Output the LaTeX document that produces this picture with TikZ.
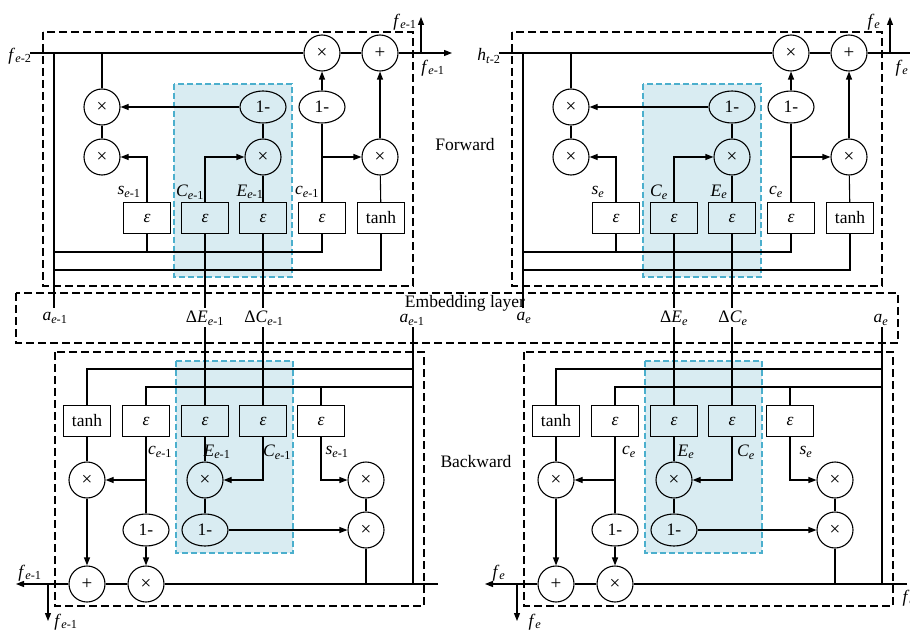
\documentclass[tikz,border=0pt]{standalone}
\usepackage{fontspec}
\setmainfont{Liberation Serif}
\usetikzlibrary{arrows.meta,shapes.geometric}

\definecolor{shadefill}{RGB}{217,236,242}
\definecolor{shadeline}{RGB}{75,175,205}

\tikzset{
  mul/.style={circle, draw, minimum size=36pt, inner sep=0pt, font=\fontsize{19}{20}\selectfont},
  onem/.style={ellipse, draw, minimum width=46pt, minimum height=32pt, inner sep=0pt},
  gate/.style={rectangle, draw, minimum width=47pt, minimum height=31pt, inner sep=0pt},
  lbl/.style={inner sep=0pt},
  arr/.style={-{Triangle[length=8pt,width=6pt]}},
  frame/.style={draw, dash pattern=on 8pt off 4pt},
  shadebox/.style={draw=shadeline, fill=shadefill, dash pattern=on 6pt off 3pt}
}

\begin{document}
\begin{tikzpicture}[x=1pt, y=-1pt, line width=1.1pt, font=\fontsize{17.5}{20}\selectfont]
  \useasboundingbox (0,0) rectangle (910,631);

  % Embedding layer
  \draw[frame] (16,293) rectangle (898,343);
  \node[lbl] (emb) at (465,303) {Embedding layer};
  \node[lbl] (fwd) at (465,145) {Forward};
  \node[lbl] (bwd) at (476,462) {Backward};

  \foreach \dx/\p/\subs/\inlab in {0/L/{\textit{e}-1}/{\textit{f}\textsubscript{\textit{e}-2}},
                                   469/R/{\textit{e}}/{\textit{h}\textsubscript{\textit{t}-2}}} {
  \begin{scope}[xshift=\dx pt]
    % ---------- forward cell ----------
    \draw[frame] (43,32) rectangle (413,286);
    \draw[shadebox] (174,84) rectangle (292,277);
    % operators
    \node[mul] (mt\p) at (322,53) {×};
    \node[mul] (pt\p) at (380,53) {+};
    \node[mul] (ma\p) at (102,107) {×};
    \node[mul] (mb\p) at (102,157) {×};
    \node[onem] (oa\p) at (263,107) {1-};
    \node[onem] (ob\p) at (322,107) {1-};
    \node[mul] (mc\p) at (263,157) {×};
    \node[mul] (md\p) at (380,157) {×};
    % gates
    \node[gate] (gs\p) at (147,218) {\textit{ε}};
    \node[gate] (gC\p) at (205,218) {\textit{ε}};
    \node[gate] (gE\p) at (263,218) {\textit{ε}};
    \node[gate] (gc\p) at (322,218) {\textit{ε}};
    \node[gate] (gt\p) at (381,218) {tanh};
    % labels
    \node[lbl] (ls\p) at (129,192) {\textit{s}\textsubscript{\subs}};
    \node[lbl] (lC\p) at (190,192) {\textit{C}\textsubscript{\subs}};
    \node[lbl] (lE\p) at (250,192) {\textit{E}\textsubscript{\subs}};
    \node[lbl] (lc\p) at (307,192) {\textit{c}\textsubscript{\subs}};
    \node[lbl] (lin\p) at (20,56) {\inlab};
    \node[lbl] (lup\p) at (405,22) {\textit{f}\textsubscript{\subs}};
    \node[lbl] (lout\p) at (433,68) {\textit{f}\textsubscript{\subs}};
    % free ends
    \coordinate (in\p) at (30,53);
    \coordinate (out\p) at (452,53);
    \coordinate (up\p) at (421,53);
    \coordinate (upt\p) at (421,17);
    \coordinate (tap\p) at (102,53);
    \coordinate (as\p) at (54,53);
    \coordinate (ae\p) at (54,308);
    \coordinate (busa\p) at (54,252);
    \coordinate (busb\p) at (54,270);
    \coordinate (dE\p) at (205,308);
    \coordinate (dC\p) at (263,308);
    % connectors
    \draw (in\p) -- (mt\p);
    \draw (mt\p) -- (pt\p);
    \draw[arr] (pt\p) -- (out\p);
    \draw[arr] (up\p) -- (upt\p);
    \draw (as\p) -- (ae\p);
    \draw (tap\p) -- (ma\p);
    \draw[arr] (oa\p) -- (ma\p);
    \draw (ma\p) -- (mb\p);
    \draw[arr] (gs\p) |- (mb\p);
    \draw[arr] (gC\p) |- (mc\p);
    \draw (gE\p) -- (mc\p);
    \draw (mc\p) -- (oa\p);
    \draw (gc\p) -- (ob\p);
    \draw[arr] (ob\p) -- (mt\p);
    \draw[arr] (gc\p.north |- md\p) -- (md\p);
    \draw (gt\p) -- (md\p);
    \draw[arr] (md\p) -- (pt\p);
    \draw (busa\p) -| (gc\p);
    \draw (gs\p) -- (gs\p.south |- busa\p);
    \draw (busb\p) -| (gt\p);
    \draw (gC\p) -- (dE\p);
    \draw (gE\p) -- (dC\p);

    % ---------- embedding labels ----------
    \node[lbl] (xa\p) at (55,318) {\textit{a}\textsubscript{\subs}};
    \node[lbl] (xE\p) at (205,318) {Δ\textit{E}\textsubscript{\subs}};
    \node[lbl] (xC\p) at (264,318) {Δ\textit{C}\textsubscript{\subs}};
    \node[lbl] (xb\p) at (412,320) {\textit{a}\textsubscript{\subs}};

    % ---------- backward cell ----------
    \draw[frame] (55,352) rectangle (424,606);
    \draw[shadebox] (176,361) rectangle (293,553);
    % gates
    \node[gate] (ht\p) at (87,421) {tanh};
    \node[gate] (hc\p) at (146,421) {\textit{ε}};
    \node[gate] (hE\p) at (205,421) {\textit{ε}};
    \node[gate] (hC\p) at (263,421) {\textit{ε}};
    \node[gate] (hs\p) at (321,421) {\textit{ε}};
    % operators
    \node[mul] (na\p) at (87,480) {×};
    \node[mul] (nb\p) at (205,480) {×};
    \node[mul] (nc\p) at (366,480) {×};
    \node[mul] (nd\p) at (366,530) {×};
    \node[onem] (pa\p) at (146,530) {1-};
    \node[onem] (pb\p) at (205,530) {1-};
    \node[mul] (np\p) at (87,584) {+};
    \node[mul] (nm\p) at (146,584) {×};
    % labels
    \node[lbl] (kc\p) at (160,452) {\textit{c}\textsubscript{\subs}};
    \node[lbl] (kE\p) at (217,452) {\textit{E}\textsubscript{\subs}};
    \node[lbl] (kC\p) at (277,452) {\textit{C}\textsubscript{\subs}};
    \node[lbl] (ks\p) at (337,452) {\textit{s}\textsubscript{\subs}};
    \node[lbl] (kout\p) at (30,573) {\textit{f}\textsubscript{\subs}};
    \node[lbl] (kdn\p) at (66,622) {\textit{f}\textsubscript{\subs}};
    % free ends
    \coordinate (bin\p) at (438,584);
    \coordinate (bout\p) at (16,584);
    \coordinate (dn\p) at (48,584);
    \coordinate (dnt\p) at (48,621);
    \coordinate (aa\p) at (413,327);
    \coordinate (ab\p) at (413,584);
    \coordinate (cba\p) at (413,369);
    \coordinate (cbb\p) at (413,387);
    \coordinate (eE\p) at (205,327);
    \coordinate (eC\p) at (263,327);
    \coordinate (nt\p) at (366,584);
    % connectors
    \draw (bin\p) -- (nm\p);
    \draw (nm\p) -- (np\p);
    \draw[arr] (np\p) -- (bout\p);
    \draw[arr] (dn\p) -- (dnt\p);
    \draw (aa\p) -- (ab\p);
    \draw (cba\p) -| (ht\p);
    \draw (cbb\p) -| (hc\p);
    \draw (hs\p) -- (hs\p.north |- cbb\p);
    \draw (eE\p) -- (hE\p);
    \draw (eC\p) -- (hC\p);
    \draw (ht\p) -- (na\p);
    \draw[arr] (na\p) -- (np\p);
    \draw (hc\p) -- (pa\p);
    \draw[arr] (hc\p.south |- na\p) -- (na\p);
    \draw[arr] (pa\p) -- (nm\p);
    \draw (hE\p) -- (nb\p);
    \draw[arr] (hC\p) |- (nb\p);
    \draw (nb\p) -- (pb\p);
    \draw[arr] (pb\p) -- (nd\p);
    \draw[arr] (hs\p) |- (nc\p);
    \draw (nc\p) -- (nd\p);
    \draw (nd\p) -- (nt\p);
  \end{scope}
  }
  % label cut by the right edge
  \node[lbl, anchor=west] (fcut) at (902,598) {\textit{f}\textsubscript{\textit{e}}};
\end{tikzpicture}
\end{document}
